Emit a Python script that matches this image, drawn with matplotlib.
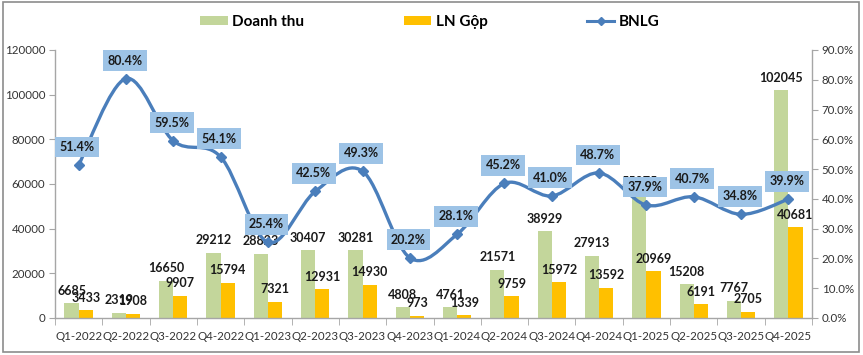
import matplotlib
matplotlib.use("Agg")
import matplotlib.pyplot as plt
from matplotlib.path import Path
from matplotlib.patches import PathPatch, Patch, Rectangle
from matplotlib.lines import Line2D
from matplotlib.ticker import FuncFormatter, FixedLocator
import numpy as np

plt.rcParams['font.family'] = ['Lato', 'DejaVu Sans']

quarters = ["Q1-2022", "Q2-2022", "Q3-2022", "Q4-2022", "Q1-2023", "Q2-2023", "Q3-2023", "Q4-2023",
            "Q1-2024", "Q2-2024", "Q3-2024", "Q4-2024", "Q1-2025", "Q2-2025", "Q3-2025", "Q4-2025"]
doanh_thu = [6685, 2319, 16650, 29212, 28823, 30407, 30281, 4808,
             4761, 21571, 38929, 27913, 55275, 15208, 7767, 102045]
ln_gop = [3433, 1908, 9907, 15794, 7321, 12931, 14930, 973,
          1339, 9759, 15972, 13592, 20969, 6191, 2705, 40681]
bnlg = [51.4, 80.4, 59.5, 54.1, 25.4, 42.5, 49.3, 20.2,
        28.1, 45.2, 41.0, 48.7, 37.9, 40.7, 34.8, 39.9]

GREEN = "#C3D69B"
ORANGE = "#FFC000"
BLUE = "#4A7EBB"
BOX = "#9DC3E6"
TXT = "#1a1a1a"
TICK = "#333333"
SPINE = "#A6A6A6"

fig = plt.figure(figsize=(8.63, 3.55), dpi=100)
fig.patches.append(Rectangle((0.003, 0.008), 0.992, 0.985, transform=fig.transFigure,
                             fill=False, edgecolor="#8C8C8C", linewidth=1.2))

ax = fig.add_axes([55/863, 37/355, (812-55)/863, 268/355])
ax2 = ax.twinx()

x = np.arange(len(quarters))
w = 0.3
ax.bar(x - w/2, doanh_thu, width=w, color=GREEN, zorder=2)
ax.bar(x + w/2, ln_gop, width=w, color=ORANGE, zorder=2)

ax.set_xlim(-0.5, len(quarters) - 0.5)
ax.set_ylim(0, 120000)
ax.set_yticks(np.arange(0, 120001, 20000))
ax2.set_ylim(0, 90)
ax2.set_yticks(np.arange(0, 91, 10))
ax2.yaxis.set_major_formatter(FuncFormatter(lambda v, p: f"{v:.1f}%"))

ax.set_xticks(x)
ax.set_xticklabels(quarters)
ax.xaxis.set_minor_locator(FixedLocator(np.arange(-0.5, len(quarters), 1.0)))
ax.tick_params(axis='x', which='major', length=0, pad=9, labelsize=8.3, labelcolor=TICK)
ax.tick_params(axis='x', which='minor', length=5, color=SPINE, direction='out')
ax.tick_params(axis='y', length=4, color=SPINE, labelsize=8.3, labelcolor=TICK, pad=3)
ax2.tick_params(axis='y', length=4, color=SPINE, labelsize=8.3, labelcolor=TICK, pad=3)

for a in (ax, ax2):
    a.spines['top'].set_visible(False)
    for s in ('left', 'right', 'bottom'):
        a.spines[s].set_color(SPINE)
        a.spines[s].set_linewidth(1.0)
ax.spines['right'].set_visible(False)
ax2.spines['left'].set_visible(False)
ax2.spines['bottom'].set_visible(False)

# smoothed line via bezier path (Catmull-Rom style control points)
pts = np.column_stack([x, bnlg]).astype(float)
verts = [tuple(pts[0])]
codes = [Path.MOVETO]
n = len(pts)
for i in range(n - 1):
    p0 = pts[i - 1] if i > 0 else pts[i]
    p1 = pts[i]
    p2 = pts[i + 1]
    p3 = pts[i + 2] if i + 2 < n else pts[i + 1]
    c1 = p1 + (p2 - p0) / 6.0
    c2 = p2 - (p3 - p1) / 6.0
    verts += [tuple(c1), tuple(c2), tuple(p2)]
    codes += [Path.CURVE4] * 3
ax2.add_patch(PathPatch(Path(verts, codes), facecolor='none', edgecolor=BLUE,
                        linewidth=2.4, zorder=3, capstyle='round', joinstyle='round'))
ax2.plot(x, bnlg, linestyle='none', marker='D', markersize=5.5, color=BLUE, zorder=4)

# bar labels
for xi, v in zip(x - w/2, doanh_thu):
    ax.annotate(f"{v}", (xi, v), xytext=(0, 9), textcoords='offset points',
                ha='center', va='center', fontsize=9, fontweight='bold', color=TXT, zorder=5)
for xi, v in zip(x + w/2, ln_gop):
    ax.annotate(f"{v}", (xi, v), xytext=(0, 9), textcoords='offset points',
                ha='center', va='center', fontsize=9, fontweight='bold', color=TXT, zorder=5)

# line labels
for xi, v in zip(x, bnlg):
    ax2.annotate(f"{v:.1f}%", (xi, v), xytext=(-1, 13), textcoords='offset points',
                 ha='center', va='center', fontsize=9, fontweight='bold', color=TXT, zorder=6,
                 bbox=dict(boxstyle='square,pad=0.35', facecolor=BOX, edgecolor='none'))

handles = [Patch(facecolor=GREEN, edgecolor='none'),
           Patch(facecolor=ORANGE, edgecolor='none'),
           Line2D([0], [0], color=BLUE, linewidth=2.2, marker='D', markersize=4.5)]
fig.legend(handles, ["Doanh thu", "LN Gộp", "BNLG"], loc='center', bbox_to_anchor=(430/863, 1 - 22/355),
           ncol=3, frameon=False, prop=dict(weight='bold', size=11), handlelength=1.8,
           handleheight=0.6, handletextpad=0.3, columnspacing=6.5)

fig.savefig("out.png", dpi=100)
